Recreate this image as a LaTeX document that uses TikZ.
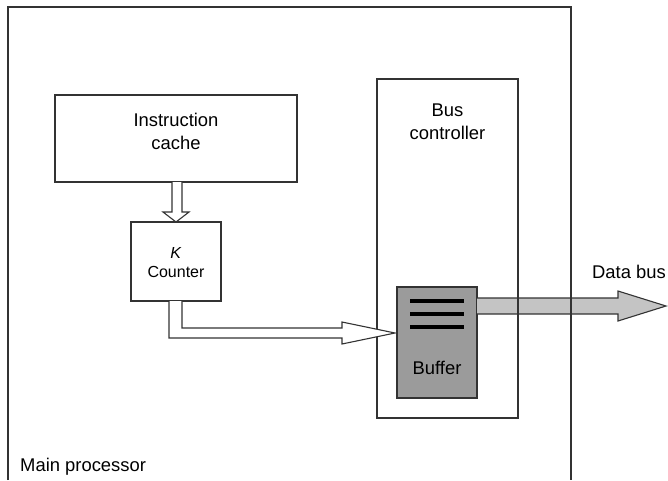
\documentclass[tikz,border=0pt]{standalone}
\usepackage{fontspec}
\setmainfont{Liberation Sans}
\usetikzlibrary{calc}
\definecolor{lc}{HTML}{333333}
\definecolor{buffill}{HTML}{9B9B9B}
\definecolor{busfill}{HTML}{C4C4C4}
\begin{document}
\begin{tikzpicture}[x=1pt,y=-1pt,
  box/.style={draw=lc,line width=1.2pt,inner sep=0pt,outer sep=0pt},
  txt/.style={font=\fontsize{18.4}{22.5}\selectfont,align=center,inner sep=0pt},
  smalltxt/.style={font=\fontsize{16}{19.5}\selectfont,align=center,inner sep=0pt},
  hollow/.style={draw=lc,line width=1.1pt,fill=white,line join=miter},
  busarrow/.style={draw=lc,line width=1.1pt,fill=busfill,line join=miter},
  barline/.style={line width=4pt,black}]
\useasboundingbox (0,0) rectangle (668,480);
% boxes
\node[box,minimum width=242pt,minimum height=87pt] (ic) at (176,138.5) {};
\node[box,minimum width=90pt,minimum height=79pt] (kc) at (176,261.5) {};
\node[box,minimum width=141pt,minimum height=339pt] (bc) at (447.5,248.5) {};
% data bus arrow (under lines)
\coordinate (dbtip) at (666,306);
\node[box,fill=buffill,minimum width=80pt,minimum height=111pt] (buf) at (437,342.5) {};
\draw[busarrow] ($(buf.north east)+(0,11)$) -- ($(dbtip)+(-48,-8)$) -- ($(dbtip)+(-48,-15)$) -- (dbtip)
  -- ($(dbtip)+(-48,15)$) -- ($(dbtip)+(-48,8)$) -- ($(buf.north east)+(0,27)$);
% outer main processor frame
\draw[draw=lc,line width=2pt] (8,480) |- (571,7) -- (571,480);
% redraw bus controller edge over arrow
\draw[draw=lc,line width=1.2pt] (bc.north east) -- (bc.south east);
% buffer bars
\foreach \dy in {14,27,40}
  \draw[barline] ($(buf.north west)+(13,\dy)$) -- ($(buf.north east)+(-13,\dy)$);
% texts
\node[txt] (ict) at (176,131.5) {Instruction\\cache};
\node[txt] (bct) at (447.5,122) {Bus\\controller};
\node[smalltxt] (kct) at (176,262.5) {\textit{K}\\Counter};
\node[txt] (buft) at (437,368) {Buffer};
\node[txt] (dbt) at (629,272) {Data bus};
\node[txt,anchor=west] (mpt) at (20,467) {Main processor};
% hollow arrow: cache -> counter
\draw[hollow] ($(ic.south)+(-4,0)$) -- ($(kc.north)+(-4,-10)$) -- ($(kc.north)+(-13,-10)$) -- (kc.north)
  -- ($(kc.north)+(13,-10)$) -- ($(kc.north)+(6,-10)$) -- ($(ic.south)+(6,0)$);
% hollow arrow: counter -> buffer
\coordinate (btip) at ($(buf.west)+(-2,-9.5)$);
\draw[hollow] ($(kc.south)+(-7,0)$) |- ($(btip)+(-53,5)$) -- ($(btip)+(-53,11)$) -- (btip)
  -- ($(btip)+(-53,-11)$) -- ($(btip)+(-53,-5)$) -| ($(kc.south)+(6,0)$);
\end{tikzpicture}
\end{document}
